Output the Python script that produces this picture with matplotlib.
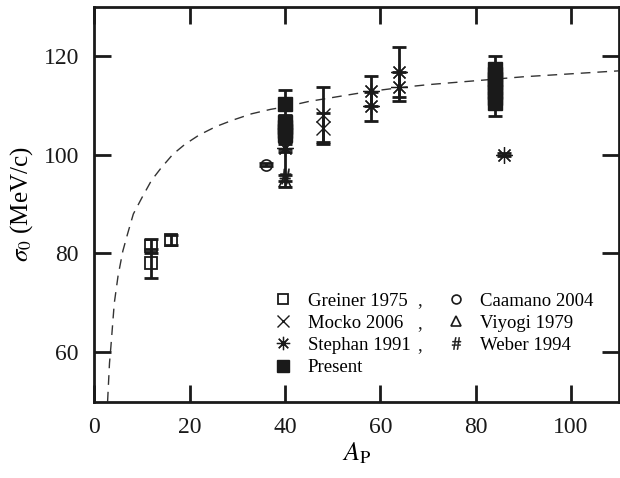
import numpy as np
import matplotlib
matplotlib.use('Agg')
import matplotlib.pyplot as plt

plt.rcParams['font.family'] = ['Liberation Serif', 'DejaVu Serif']
plt.rcParams['mathtext.fontset'] = 'stix'

# data
greiner_A = [12, 12, 16]
greiner_s = [81.5, 78.0, 82.8]
greiner_e = [1.5, 3.0, 1.0]

caamano_A = [36]
caamano_s = [98.0]
caamano_e = [0.3]

mocko_A = [48, 48]
mocko_s = [108.0, 105.5]
mocko_e = [5.8, 3.0]

stephan_A = [40, 58, 58, 64, 64, 86]
stephan_s = [101.3, 112.9, 109.8, 116.8, 113.8, 100.0]
stephan_e = [0.8, 3.1, 2.9, 5.1, 3.0, 0.3]

viyogi_A = [40]
viyogi_s = [94.6]
viyogi_e = [1.2]

weber_A = [40]
weber_s = [95.6]
weber_e_lo = [1.0]
weber_e_hi = [5.5]

present_A = [40, 40, 40, 40, 40, 84, 84, 84, 84, 84, 84, 84, 84]
present_s = [110.3, 106.6, 105.6, 104.8, 104.0,
             117.3, 116.3, 115.4, 114.5, 113.6, 112.7, 111.6, 110.5]
present_e = [2.9, 1.5, 1.5, 1.5, 1.5,
             2.7, 1.6, 1.6, 1.6, 1.6, 1.6, 1.6, 2.6]

# dashed curve, points
curve_A = [2.8, 3.2, 3.5, 4.2, 5.0, 6.0, 7.0, 8.2, 10, 12, 14, 16.5, 19, 22,
           25.5, 29, 33, 37, 40, 45, 50, 55, 60, 65, 70, 75, 80, 90, 100, 110]
curve_s = [50, 57.8, 61.2, 69.9, 75.5, 80.5, 84, 88, 91.3, 94.8, 97.3, 100.1,
           102.1, 104.0, 105.7, 107.0, 108.3, 109.2, 109.7, 110.8, 111.6,
           112.4, 113.1, 113.7, 114.2, 114.6, 115.0, 115.8, 116.4, 117.0]

fig = plt.figure(figsize=(6.2, 4.78), dpi=100)
ax = fig.add_axes([0.152, 0.160, 0.846, 0.826])

k = '#1a1a1a'
eb = dict(fmt='none', ecolor=k, elinewidth=2, capsize=5, capthick=2, zorder=2)

ax.plot(curve_A, curve_s, ls=(0, (7, 5)), color='#333333', lw=1, zorder=1)

ax.errorbar(greiner_A, greiner_s, yerr=greiner_e, **eb)
ax.errorbar(caamano_A, caamano_s, yerr=caamano_e, **eb)
ax.errorbar(mocko_A, mocko_s, yerr=mocko_e, **eb)
ax.errorbar(stephan_A, stephan_s, yerr=stephan_e, **eb)
ax.errorbar(viyogi_A, viyogi_s, yerr=viyogi_e, **eb)
ax.errorbar(weber_A, weber_s, yerr=[weber_e_lo, weber_e_hi], **eb)
ax.errorbar(present_A, present_s, yerr=present_e, **eb)

h1, = ax.plot(greiner_A, greiner_s, 's', ms=9, mfc='none', mec=k, mew=1.3, ls='none', label='Greiner 1975')
h2, = ax.plot(mocko_A, mocko_s, 'x', ms=10, mec=k, mew=1.0, ls='none', label='Mocko 2006')
h3, = ax.plot(stephan_A, stephan_s, marker=(8, 2, 0), ms=12, mec=k, mew=0.9, ls='none', label='Stephan 1991')
h4, = ax.plot(present_A, present_s, 's', ms=10, color=k, ls='none', label='Present')
h5, = ax.plot(caamano_A, caamano_s, 'o', ms=8, mfc='none', mec=k, mew=1.2, ls='none', label='Caamano 2004')
h6, = ax.plot(viyogi_A, viyogi_s, '^', ms=9, mfc='none', mec=k, mew=1.2, ls='none', label='Viyogi 1979')
h7, = ax.plot(weber_A, weber_s, marker='$\\#$', ms=11, color=k, mew=0.3, ls='none', label='Weber 1994')

ax.set_xlim(0, 110)
ax.set_ylim(50, 130)
ax.set_xticks([0, 20, 40, 60, 80, 100])
ax.set_yticks([60, 80, 100, 120])
ax.tick_params(direction='in', length=12, width=2, labelsize=17, pad=11,
               top=True, right=True, colors=k)
for sp in ax.spines.values():
    sp.set_linewidth(2)
    sp.set_color(k)

ax.set_xlabel(r'$A_{\rm P}$', fontsize=19, labelpad=2)
ax.set_ylabel(r'$\sigma_0$ (MeV/c)', fontsize=18, labelpad=6)

leg = ax.legend(handles=[h1, h2, h3, h4, h5, h6, h7], ncol=2, frameon=False,
                loc='upper left', bbox_to_anchor=(0.325, 0.30), borderpad=0,
                fontsize=13.5, handlelength=1.0, handletextpad=0.8,
                columnspacing=1.9, labelspacing=0.27, markerscale=0.8)

fig.canvas.draw()
texts = leg.get_texts()
xmax = max(t.get_window_extent().x1 for t in texts[:3])
for t in texts[:3]:
    x0, y0 = t.get_transform().transform(t.get_position())
    fig.text((xmax + 7) / fig.bbox.width, y0 / fig.bbox.height, ',',
             fontsize=13.5, va='baseline', ha='left', color=k)

fig.savefig('out.png', dpi=100)
